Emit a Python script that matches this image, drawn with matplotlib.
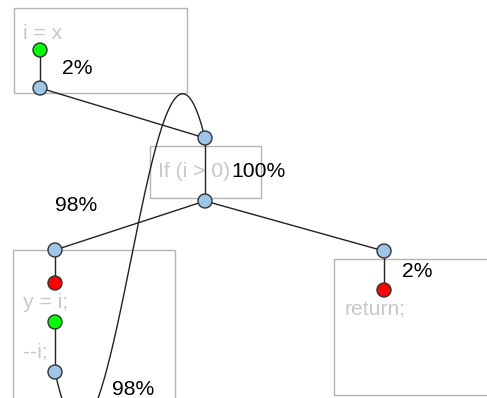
import numpy as np
import matplotlib.pyplot as plt
from matplotlib.patches import Rectangle, Circle

plt.rcParams['font.family'] = ['Liberation Sans', 'DejaVu Sans']

# boxes: (x, y, w, h) in pixel space, y downwards
boxes = [(14, 8, 173, 85), (150, 146, 111, 52), (13, 250, 162, 160), (334, 259, 170, 136)]

# code text inside boxes (x, baseline)
code_labels = ["i = x", "If (i > 0)", "y = i;", "--i;", "return;"]
code_pos = [(23, 39), (158, 177), (23, 308), (23, 358), (345, 316)]

# nodes
node_xy = [(40, 50), (40, 88), (205, 138), (205, 201), (55, 250), (55, 283),
           (55, 322), (55, 372), (384, 251), (384, 290)]
node_kind = ["green", "blue", "blue", "blue", "blue", "red", "green", "blue", "blue", "red"]
colors = {"green": "#00ff00", "blue": "#9fc5e8", "red": "#ff0000"}

# straight edges between node indices
edges = [(0, 1), (1, 2), (2, 3), (3, 4), (3, 8), (4, 5), (6, 7), (8, 9)]

# probability labels (x, baseline)
pct_labels = ["2%", "100%", "98%", "2%", "98%"]
pct_pos = [(62, 74), (231, 177), (55, 211), (402, 277), (112, 395)]

# back edge control points (cubic bezier)
back_edge = [(55, 372), (110, 620), (150, -85), (205, 138)]

fig = plt.figure(figsize=(4.87, 3.98), dpi=100)
ax = fig.add_axes([0, 0, 1, 1])
ax.set_xlim(0, 487)
ax.set_ylim(398, 0)
ax.axis("off")

for x, y, w, h in boxes:
    ax.add_patch(Rectangle((x, y), w, h, fill=False, ec="#b4b4b4", lw=1.0, zorder=1))

for s, (x, y) in zip(code_labels, code_pos):
    ax.text(x, y, s, color="#c8c8c8", fontsize=15.2, va="baseline", ha="left", zorder=2)

for a, b in edges:
    (x0, y0), (x1, y1) = node_xy[a], node_xy[b]
    ax.plot([x0, x1], [y0, y1], color="#222222", lw=1.0, zorder=3)

p = np.array(back_edge, dtype=float)
t = np.linspace(0, 1, 200)[:, None]
curve = ((1 - t) ** 3 * p[0] + 3 * (1 - t) ** 2 * t * p[1]
         + 3 * (1 - t) * t ** 2 * p[2] + t ** 3 * p[3])
ax.plot(curve[:, 0], curve[:, 1], color="#222222", lw=1.0, zorder=3)

for (x, y), k in zip(node_xy, node_kind):
    ax.add_patch(Circle((x, y), 7, fc=colors[k], ec="#333333", lw=1.0, zorder=4))

for s, (x, y) in zip(pct_labels, pct_pos):
    ax.text(x, y, s, color="black", fontsize=15.2, va="baseline", ha="left", zorder=5)

fig.savefig("out.png", dpi=100)
